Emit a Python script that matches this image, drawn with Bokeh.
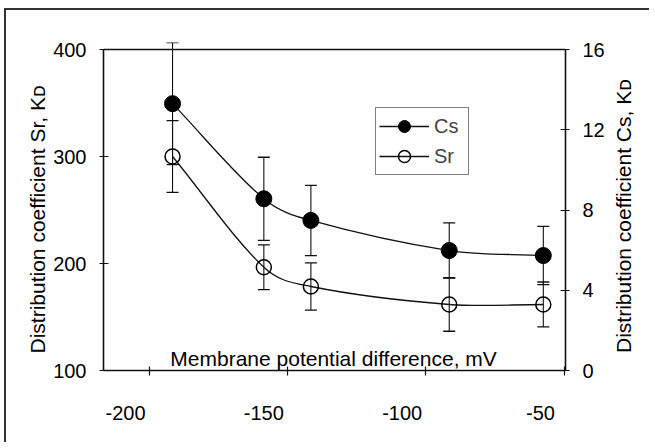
import math
import numpy as np
from bokeh.plotting import figure
from bokeh.models import (Range1d, LinearAxis, FixedTicker, Whisker, TeeHead,
                          ColumnDataSource, Legend, LegendItem, Label, Span, Title,
                          PrintfTickFormatter)
from bokeh.embed import file_html
from bokeh.resources import INLINE

# ---- data ----
potential = [-183, -150, -133, -83, -49]          # membrane potential difference, mV
cs_kd = [13.3, 8.56, 7.48, 5.98, 5.73]            # Cs distribution coefficient (right axis)
cs_err = [3.04, 2.07, 1.75, 1.38, 1.45]
sr_kd = [300, 196.5, 178.5, 161.7, 161.7]         # Sr distribution coefficient (left axis)
sr_err = [33.6, 21, 22, 25, 21]
x_ticks = [-200, -150, -100, -50]
sr_ticks = [100, 200, 300, 400]
cs_ticks = [0, 4, 8, 12, 16]

FONT = "Liberation Sans"
INK = "#111111"
Y_TOP = 100 + 328 / 1.07                          # a little head-room above 400 for the first error bar


def smooth_segments(xs, ys):
    """Cubic Hermite (function-like) Bezier segments through the data points."""
    x = np.asarray(xs, float)
    y = np.asarray(ys, float)
    m = np.empty_like(y)
    m[1:-1] = (y[2:] - y[:-2]) / (x[2:] - x[:-2])
    m[0] = (y[1] - y[0]) / (x[1] - x[0])
    m[-1] = (y[-1] - y[-2]) / (x[-1] - x[-2])
    h = x[1:] - x[:-1]
    return dict(
        x0=x[:-1], y0=y[:-1], x1=x[1:], y1=y[1:],
        cx0=x[:-1] + h / 3, cy0=y[:-1] + m[:-1] * h / 3,
        cx1=x[1:] - h / 3, cy1=y[1:] - m[1:] * h / 3,
    )


p = figure(width=645, height=434, output_backend="svg", toolbar_location=None,
           x_range=Range1d(-207.95, -40.98), y_range=Range1d(100, Y_TOP),
           x_axis_location=None, y_axis_location=None,
           min_border_left=97, min_border_right=86, min_border_top=32, min_border_bottom=74)
p.extra_x_ranges = {"ticks": Range1d(-207.95 - 8.5, -40.98 - 8.5)}
p.extra_y_ranges = {"cs": Range1d(0, (Y_TOP - 100) / 18.75)}
p.outline_line_color = None
p.grid.visible = False
p.background_fill_color = "white"
p.border_fill_color = "white"
p.styles = {"border-top": "2px solid #333333", "border-left": "2px solid #333333",
            "margin-left": "4px", "margin-top": "8px"}


def style_axis(ax):
    ax.axis_line_color = INK
    ax.axis_line_width = 1.6
    ax.major_tick_line_color = INK
    ax.major_tick_line_width = 1.2
    ax.minor_tick_line_color = None
    ax.major_label_text_font = FONT
    ax.major_label_text_font_size = "20px"
    ax.major_label_text_color = "black"
    ax.axis_label_text_font = FONT
    ax.axis_label_text_font_size = "21px"
    ax.axis_label_text_font_style = "normal"
    ax.axis_label_text_color = "black"
    ax.formatter = PrintfTickFormatter(format="%d")


left = LinearAxis(ticker=FixedTicker(ticks=sr_ticks), bounds=(100, 400))
style_axis(left)
left.major_tick_in = 5
left.major_tick_out = 4
left.major_label_standoff = 13
p.add_layout(left, "left")

p.add_layout(Title(text="Distribution coefficient Sr, K\u1d05", align="left", offset=17,
                   standoff=4, text_font=FONT, text_font_size="21px",
                   text_font_style="normal", text_color="black"), "left")

# right title reads bottom-to-top like the left one; it starts from the lower end of the axis
right = LinearAxis(y_range_name="cs", ticker=FixedTicker(ticks=cs_ticks), bounds=(0, 16),
                   axis_label="\u00a0\u00a0\u00a0Distribution coefficient Cs, K\u1d05")
style_axis(right)
right.major_tick_in = 5
right.major_tick_out = 4
right.major_label_standoff = 13
right.axis_label_standoff = 16
right.axis_label_orientation = math.pi / 2
right.axis_label_align = "start"
p.add_layout(right, "right")

tick_axis = LinearAxis(x_range_name="ticks", ticker=FixedTicker(ticks=x_ticks))
style_axis(tick_axis)
tick_axis.major_tick_in = 4
tick_axis.major_tick_out = 5
tick_axis.major_label_text_font_size = "1px"
tick_axis.major_label_overrides = {t: "" for t in x_ticks}
tick_axis.major_label_standoff = 0
p.add_layout(tick_axis, "below")

label_axis = LinearAxis(ticker=FixedTicker(ticks=x_ticks))
style_axis(label_axis)
label_axis.axis_line_color = None
label_axis.major_tick_line_color = None
label_axis.major_tick_in = 0
label_axis.major_tick_out = 0
label_axis.major_label_standoff = 30
p.add_layout(label_axis, "below")

p.add_layout(Span(location=400, dimension="width", line_color=INK, line_width=1.5))

# error bars
cs_src = ColumnDataSource(dict(x=potential, upper=np.add(cs_kd, cs_err), lower=np.subtract(cs_kd, cs_err)))
sr_src = ColumnDataSource(dict(x=potential, upper=np.add(sr_kd, sr_err), lower=np.subtract(sr_kd, sr_err)))
for src, rng in ((cs_src, "cs"), (sr_src, "default")):
    w = Whisker(base="x", upper="upper", lower="lower", dimension="height", source=src,
                y_range_name=rng, line_color=INK, line_width=1.1,
                upper_head=TeeHead(size=12, line_color=INK, line_width=1.3),
                lower_head=TeeHead(size=12, line_color=INK, line_width=1.3))
    p.add_layout(w)

# smoothed connecting lines
cs_curve = p.bezier(source=ColumnDataSource(smooth_segments(potential, cs_kd)),
                    x0="x0", y0="y0", x1="x1", y1="y1", cx0="cx0", cy0="cy0", cx1="cx1", cy1="cy1",
                    line_color=INK, line_width=1.3, y_range_name="cs")
sr_curve = p.bezier(source=ColumnDataSource(smooth_segments(potential, sr_kd)),
                    x0="x0", y0="y0", x1="x1", y1="y1", cx0="cx0", cy0="cy0", cx1="cx1", cy1="cy1",
                    line_color=INK, line_width=1.3)

cs_pts = p.scatter(potential, cs_kd, marker="circle", size=16, fill_color="black",
                   line_color="black", y_range_name="cs")
sr_pts = p.scatter(potential, sr_kd, marker="circle", size=15, fill_color=None,
                   line_color="black", line_width=1.5)

legend = Legend(items=[LegendItem(label="Cs", renderers=[cs_curve, cs_pts]),
                       LegendItem(label="Sr", renderers=[sr_curve, sr_pts])],
                location=(272, 195), margin=0, padding=3, spacing=0,
                glyph_width=50, glyph_height=30, label_standoff=5, label_width=31,
                label_text_font=FONT, label_text_font_size="20px",
                border_line_color="black", border_line_width=1,
                background_fill_color="white", background_fill_alpha=1.0)
p.add_layout(legend)

# x-axis title sits inside the plot area, just above the axis line
p.add_layout(Label(x=-124.8, y=100.3, text="Membrane potential difference, mV",
                   text_align="center", text_baseline="bottom",
                   text_font=FONT, text_font_size="21px", text_color="black"))

open("out.html", "w").write(file_html(p, INLINE))
